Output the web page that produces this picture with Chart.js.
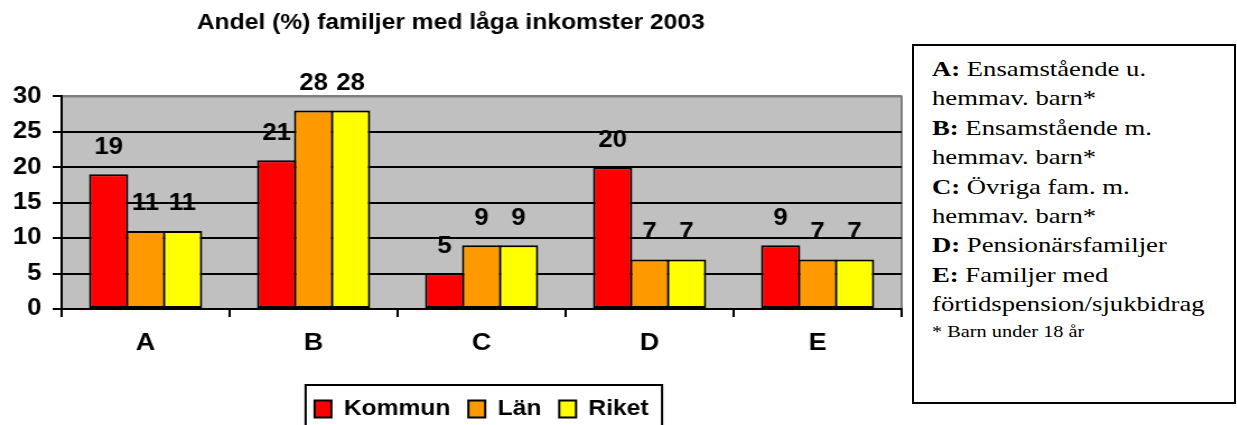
<!DOCTYPE html>
<html>
<head>
    <meta charset="utf-8">
    <title>Andel (%) familjer med låga inkomster 2003</title>
    <script src="https://cdn.jsdelivr.net/npm/chart.js"></script>
    <style>
        html, body { margin: 0; padding: 0; overflow: hidden; background: #fff; }
        /* the original is stretched sideways, so the chart is too */
        #chartBox { position: absolute; left: 0; top: 0; width: 814px; height: 440px;
                    transform: scaleX(1.12); transform-origin: 0 0; }
        #notes { position: absolute; left: 912px; top: 44px; width: 324px; height: 360px;
                 border: 2px solid #000; box-sizing: border-box; }
        #notesText { position: absolute; left: 18px; top: 9px; white-space: nowrap;
                     font-family: "Liberation Serif", "Times New Roman", serif; font-size: 21px;
                     line-height: 29.4px; color: #000; transform: scaleX(1.27); transform-origin: 0 0; }
        #notesText .small { font-size: 16px; line-height: 24px; }
    </style>
</head>
<body>
<div id="chartBox"><canvas id="incomeChart" width="814" height="440"></canvas></div>
<div id="notes">
    <div id="notesText">
        <b>A:</b> Ensamstående u.<br>
        hemmav. barn*<br>
        <b>B:</b> Ensamstående m.<br>
        hemmav. barn*<br>
        <b>C:</b> Övriga fam. m.<br>
        hemmav. barn*<br>
        <b>D:</b> Pensionärsfamiljer<br>
        <b>E:</b> Familjer med<br>
        förtidspension/sjukbidrag
        <div class="small">* Barn under 18 år</div>
    </div>
</div>
<script>
    const categories = ['A', 'B', 'C', 'D', 'E'];
    const kommun = [19, 21, 5, 20, 9];
    const lan = [11, 28, 9, 7, 7];
    const riket = [11, 28, 9, 7, 7];
    const yMax = 30;
    const yStep = 5;

    const font = 'Arial, "Liberation Sans", sans-serif';

    // grey plot area with a darker top/right edge
    const plotBackground = {
        id: 'plotBackground',
        beforeDraw(chart) {
            const {ctx, chartArea: a} = chart;
            ctx.save();
            ctx.fillStyle = '#c0c0c0';
            ctx.fillRect(a.left, a.top, a.right - a.left, a.bottom - a.top);
            ctx.strokeStyle = '#808080';
            ctx.lineWidth = 2;
            ctx.beginPath();
            ctx.moveTo(a.left, a.top);
            ctx.lineTo(a.right, a.top);
            ctx.lineTo(a.right, a.bottom);
            ctx.stroke();
            ctx.restore();
        }
    };

    // value above every bar
    const barValues = {
        id: 'barValues',
        afterDatasetsDraw(chart) {
            const ctx = chart.ctx;
            ctx.save();
            ctx.font = 'bold 23px ' + font;
            ctx.fillStyle = '#000';
            ctx.textAlign = 'center';
            ctx.textBaseline = 'middle';
            chart.data.datasets.forEach((ds, i) => {
                chart.getDatasetMeta(i).data.forEach((bar, j) => {
                    ctx.fillText(ds.data[j], bar.x, bar.y - 27);
                });
            });
            ctx.restore();
        }
    };

    // frame round the legend
    const legendFrame = {
        id: 'legendFrame',
        afterDraw(chart) {
            const boxes = chart.legend.legendHitBoxes;
            if (!boxes || !boxes.length) return;
            const ctx = chart.ctx;
            const left = Math.min(...boxes.map(b => b.left)) - 8;
            const right = Math.max(...boxes.map(b => b.left + b.width)) + 12;
            const top = boxes[0].top - 13;
            ctx.save();
            ctx.strokeStyle = '#000';
            ctx.lineWidth = 2;
            ctx.strokeRect(left, top, right - left, chart.height - top + 20);
            ctx.restore();
        }
    };

    const ctx = document.getElementById('incomeChart').getContext('2d');
    new Chart(ctx, {
        type: 'bar',
        data: {
            labels: categories,
            datasets: [
                {label: 'Kommun', data: kommun, backgroundColor: '#ff0000'},
                {label: 'Län', data: lan, backgroundColor: '#ff9900'},
                {label: 'Riket', data: riket, backgroundColor: '#ffff00'}
            ].map(ds => Object.assign(ds, {
                borderColor: '#000',
                borderWidth: 2,
                borderSkipped: false,
                categoryPercentage: 0.66,
                barPercentage: 1.06
            }))
        },
        options: {
            responsive: false,
            animation: false,
            layout: {padding: {left: 0, right: 9, top: 0, bottom: 10}},
            plugins: {
                title: {
                    display: true,
                    text: 'Andel (%) familjer med låga inkomster 2003',
                    color: '#000',
                    font: {family: font, size: 22, weight: 'bold'},
                    padding: {top: 10, bottom: 60}
                },
                legend: {
                    position: 'bottom',
                    fullSize: false,
                    labels: {
                        color: '#000',
                        boxWidth: 15,
                        boxHeight: 17,
                        padding: 16,
                        font: {family: font, size: 22, weight: 'bold'}
                    }
                },
                tooltip: {enabled: false}
            },
            scales: {
                x: {
                    grid: {offset: true, drawOnChartArea: false, color: '#000', lineWidth: 2, tickLength: 8},
                    border: {color: '#000', width: 2},
                    ticks: {color: '#000', padding: 12, font: {family: font, size: 24, weight: 'bold'}},
                    afterFit(scale) { scale.height = 73; }
                },
                y: {
                    min: 0,
                    max: yMax,
                    ticks: {stepSize: yStep, color: '#000', padding: 10, font: {family: font, size: 23, weight: 'bold'}},
                    grid: {
                        color: c => c.tick && c.tick.value === yMax ? '#808080' : '#000',
                        tickColor: '#000',
                        lineWidth: 2,
                        tickLength: 8
                    },
                    border: {color: '#000', width: 2},
                    afterFit(scale) { scale.width = 55; }
                }
            }
        },
        plugins: [plotBackground, barValues, legendFrame]
    });
</script>
</body>
</html>
